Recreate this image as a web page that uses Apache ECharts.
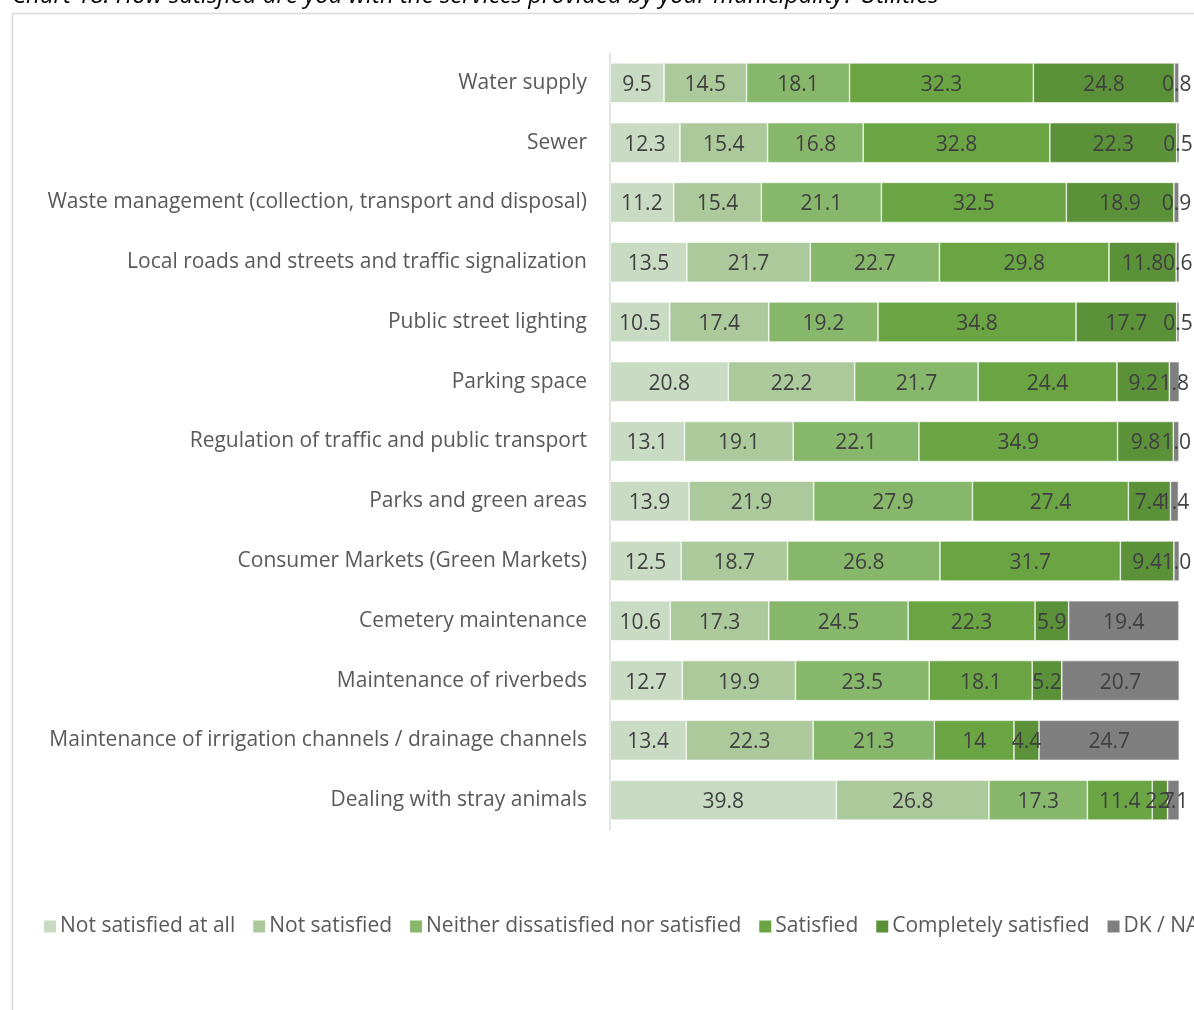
<!DOCTYPE html>
<html>
<head>
<meta charset="utf-8">
<script src="https://cdn.jsdelivr.net/npm/echarts@6/dist/echarts.min.js"></script>
<style>
  html, body { margin: 0; padding: 0; background: #fff; overflow: hidden; }
  #chart { width: 1260px; height: 1010px; }
</style>
</head>
<body>
<div id="chart"></div>
<script>
// Satisfaction with municipal utility services (% of respondents)
const categories = [
  'Water supply',
  'Sewer',
  'Waste management (collection, transport and disposal)',
  'Local roads and streets and traffic signalization',
  'Public street lighting',
  'Parking space',
  'Regulation of traffic and public transport',
  'Parks and green areas',
  'Consumer Markets (Green Markets)',
  'Cemetery maintenance',
  'Maintenance of riverbeds',
  'Maintenance of irrigation channels / drainage channels',
  'Dealing with stray animals'
];

const seriesNames = [
  'Not satisfied at all',
  'Not satisfied',
  'Neither dissatisfied nor satisfied',
  'Satisfied',
  'Completely satisfied',
  'DK / NA'
];

const notSatisfiedAtAll = [9.5, 12.3, 11.2, 13.5, 10.5, 20.8, 13.1, 13.9, 12.5, 10.6, 12.7, 13.4, 39.8];
const notSatisfied      = [14.5, 15.4, 15.4, 21.7, 17.4, 22.2, 19.1, 21.9, 18.7, 17.3, 19.9, 22.3, 26.8];
const neither           = [18.1, 16.8, 21.1, 22.7, 19.2, 21.7, 22.1, 27.9, 26.8, 24.5, 23.5, 21.3, 17.3];
const satisfied         = [32.3, 32.8, 32.5, 29.8, 34.8, 24.4, 34.9, 27.4, 31.7, 22.3, 18.1, 14, 11.4];
const completely        = [24.8, 22.3, 18.9, 11.8, 17.7, 9.2, 9.8, 7.4, 9.4, 5.9, 5.2, 4.4, 2.7];
const dkNa              = [0.8, 0.5, 0.9, 0.6, 0.5, 1.8, 1.0, 1.4, 1.0, 19.4, 20.7, 24.7, 2.1];

const seriesData = [notSatisfiedAtAll, notSatisfied, neither, satisfied, completely, dkNa];
const colors = ['#c9dbc3', '#acc99c', '#87b76b', '#6aa443', '#5b9138', '#7f7f7f'];

const FONT = '"Open Sans"';

function fmt(v) {
  return v < 10 ? v.toFixed(1) : String(v);
}

const chart = echarts.init(document.getElementById('chart'), null, { renderer: 'canvas' });

chart.setOption({
  animation: false,
  backgroundColor: '#ffffff',
  textStyle: { fontFamily: FONT },
  graphic: [
    {
      type: 'rect',
      shape: { x: 12.5, y: 13.5, width: 1300, height: 1100 },
      style: { fill: 'none', stroke: '#d9d9d9', lineWidth: 1.5 },
      silent: true
    },
    {
      type: 'text',
      left: 12,
      top: -16,
      style: {
        text: 'Chart 18: How satisfied are you with the services provided by your municipality? Utilities',
        font: 'italic 24px ' + FONT,
        fill: '#000000'
      },
      silent: true
    }
  ],
  legend: {
    left: 42,
    top: 916,
    padding: 0,
    itemWidth: 14,
    itemHeight: 14,
    itemGap: 16,
    icon: 'rect',
    data: seriesNames,
    textStyle: { color: '#595959', fontSize: 21, fontFamily: FONT, padding: [0, 0, 0, -2] }
  },
  grid: {
    left: 610,
    right: 1260 - 1179,
    top: 53,
    bottom: 1010 - 830,
    containLabel: false
  },
  xAxis: {
    type: 'value',
    min: 0,
    max: 100,
    show: false
  },
  yAxis: {
    type: 'category',
    inverse: true,
    data: categories,
    axisTick: { show: false },
    axisLine: { show: true, lineStyle: { color: '#d9d9d9', width: 1.5 } },
    axisLabel: { color: '#595959', fontSize: 21, fontFamily: FONT, margin: 23, padding: [4, 0, 0, 0] }
  },
  series: seriesNames.map((name, i) => ({
    name: name,
    type: 'bar',
    stack: 'total',
    barCategoryGap: '33%',
    data: seriesData[i],
    itemStyle: { color: colors[i], borderColor: '#ffffff', borderWidth: 0.6 },
    label: {
      show: true,
      position: 'inside',
      offset: [0, 2],
      color: '#404040',
      fontSize: 21,
      fontFamily: FONT,
      formatter: p => fmt(p.value)
    }
  }))
});
</script>
</body>
</html>
